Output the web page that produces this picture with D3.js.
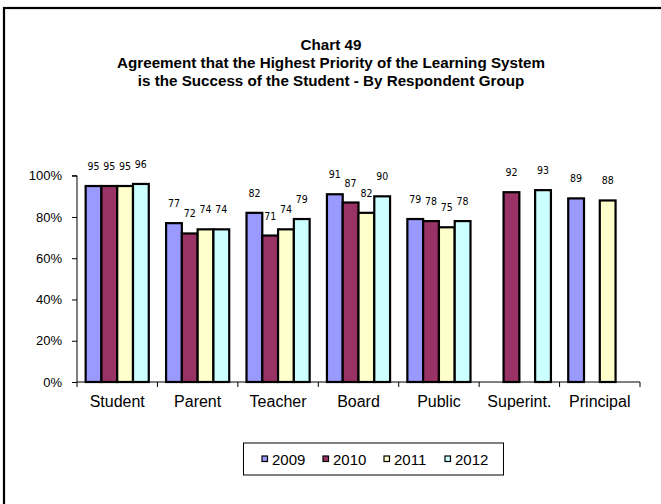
<!DOCTYPE html>
<html>
<head>
<meta charset="utf-8">
<script src="https://cdn.jsdelivr.net/npm/d3@7"></script>
<style>
  html, body { margin: 0; padding: 0; background: #fff; }
  svg { display: block; }
</style>
</head>
<body>
<svg id="chart" width="661" height="504"></svg>
<script>
// Respondent groups along the x axis
const categories = ["Student", "Parent", "Teacher", "Board", "Public", "Superint.", "Principal"];
// Survey years (one bar per year inside each group)
const years = ["2009", "2010", "2011", "2012"];
// Percent agreeing, per year; null where a group was not surveyed that year
const values2009 = [95, 77, 82, 91, 79, null, 89];
const values2010 = [95, 72, 71, 87, 78, 92, null];
const values2011 = [95, 74, 74, 82, 75, null, 88];
const values2012 = [96, 74, 79, 90, 78, 93, null];
const yTicks = [0, 20, 40, 60, 80, 100];
const titleLines = [
  "Chart 49",
  "Agreement that the Highest Priority of the Learning System",
  "is the Success of the Student - By Respondent Group"
];

const seriesValues = [values2009, values2010, values2011, values2012];
const colors = ["#9999FF", "#993366", "#FFFFCC", "#CCFFFF"];

const svg = d3.select("#chart");
const W = 661, H = 504;

// outer frame
svg.append("rect")
  .attr("x", 4).attr("y", 8)
  .attr("width", W + 10).attr("height", H + 10)
  .attr("fill", "#fff").attr("stroke", "#000").attr("stroke-width", 2.2);

// title
const title = svg.append("text")
  .attr("text-anchor", "middle")
  .attr("font-family", "Liberation Sans, Arial, sans-serif")
  .attr("font-weight", "bold")
  .attr("font-size", 15.2)
  .attr("fill", "#000");
titleLines.forEach((t, i) => {
  title.append("tspan").attr("x", 331).attr("y", 49.5 + i * 18).text(t);
});

const plot = { left: 77, right: 640, top: 175.7, bottom: 382 };

const x0 = d3.scaleBand()
  .domain(categories)
  .range([plot.left, plot.right])
  .paddingInner(0).paddingOuter(0);

const gap = x0.bandwidth() * 0.215 / 2;
const x1 = d3.scaleBand()
  .domain(years)
  .range([gap, x0.bandwidth() - gap])
  .padding(0);

const y = d3.scaleLinear().domain([0, 100]).range([plot.bottom, plot.top]);

// flatten to bar records
const bars = [];
categories.forEach((c, ci) => {
  years.forEach((yr, si) => {
    const v = seriesValues[si][ci];
    if (v !== null && v !== undefined) bars.push({ c, yr, si, v });
  });
});

// y axis
const yAxis = d3.axisLeft(y)
  .tickValues(yTicks)
  .tickSize(5)
  .tickPadding(10)
  .tickFormat(d => d + "%");
const gy = svg.append("g")
  .attr("transform", `translate(${plot.left},0)`)
  .call(yAxis);
gy.select(".domain").attr("stroke", "#000").attr("d", `M-5,${plot.top}H0V${plot.bottom}`);
gy.selectAll(".tick line").attr("stroke", "#000");
gy.selectAll(".tick text")
  .attr("font-family", "Liberation Sans, Arial, sans-serif")
  .attr("font-size", 13)
  .attr("fill", "#000");

// bars
svg.append("g").selectAll("rect")
  .data(bars)
  .join("rect")
  .attr("x", d => x0(d.c) + x1(d.yr))
  .attr("y", d => y(d.v))
  .attr("width", x1.bandwidth())
  .attr("height", d => y(0) - y(d.v))
  .attr("fill", d => colors[d.si])
  .attr("stroke", "#000")
  .attr("stroke-width", 2.2);

// x axis: baseline plus tick marks between groups
const xAxisG = svg.append("g").attr("transform", `translate(0,${plot.bottom})`);
xAxisG.append("line")
  .attr("x1", plot.left).attr("x2", plot.right)
  .attr("y1", 0).attr("y2", 0)
  .attr("stroke", "#000");
const boundaries = categories.map(c => x0(c)).concat([plot.right]);
xAxisG.selectAll("line.tk")
  .data(boundaries)
  .join("line")
  .attr("class", "tk")
  .attr("x1", d => d).attr("x2", d => d)
  .attr("y1", 0).attr("y2", 5)
  .attr("stroke", "#000");
xAxisG.selectAll("text")
  .data(categories)
  .join("text")
  .attr("x", d => x0(d) + x0.bandwidth() / 2)
  .attr("y", 25)
  .attr("text-anchor", "middle")
  .attr("font-family", "Liberation Sans, Arial, sans-serif")
  .attr("font-size", 16)
  .attr("fill", "#000")
  .text(d => d);

// value labels
svg.append("g").selectAll("text")
  .data(bars)
  .join("text")
  .attr("x", d => x0(d.c) + x1(d.yr) + x1.bandwidth() / 2)
  .attr("y", d => y(d.v) - 16)
  .attr("text-anchor", "middle")
  .attr("font-family", "DejaVu Sans Condensed, Liberation Sans Narrow, Arial, sans-serif")
  .attr("font-size", 10.5)
  .attr("fill", "#000")
  .text(d => d.v);

// legend
const legend = svg.append("g");
legend.append("rect")
  .attr("x", 243.5).attr("y", 443)
  .attr("width", 260).attr("height", 32)
  .attr("fill", "#fff").attr("stroke", "#000").attr("stroke-width", 1);
years.forEach((yr, i) => {
  const lx = 262 + i * 61;
  legend.append("rect")
    .attr("x", lx).attr("y", 456)
    .attr("width", 5.5).attr("height", 5.5)
    .attr("fill", colors[i])
    .attr("stroke", "#000").attr("stroke-width", 1.2);
  legend.append("text")
    .attr("x", lx + 10).attr("y", 464.5)
    .attr("font-family", "Liberation Sans, Arial, sans-serif")
    .attr("font-size", 15)
    .attr("fill", "#000")
    .text(yr);
});
</script>
</body>
</html>
